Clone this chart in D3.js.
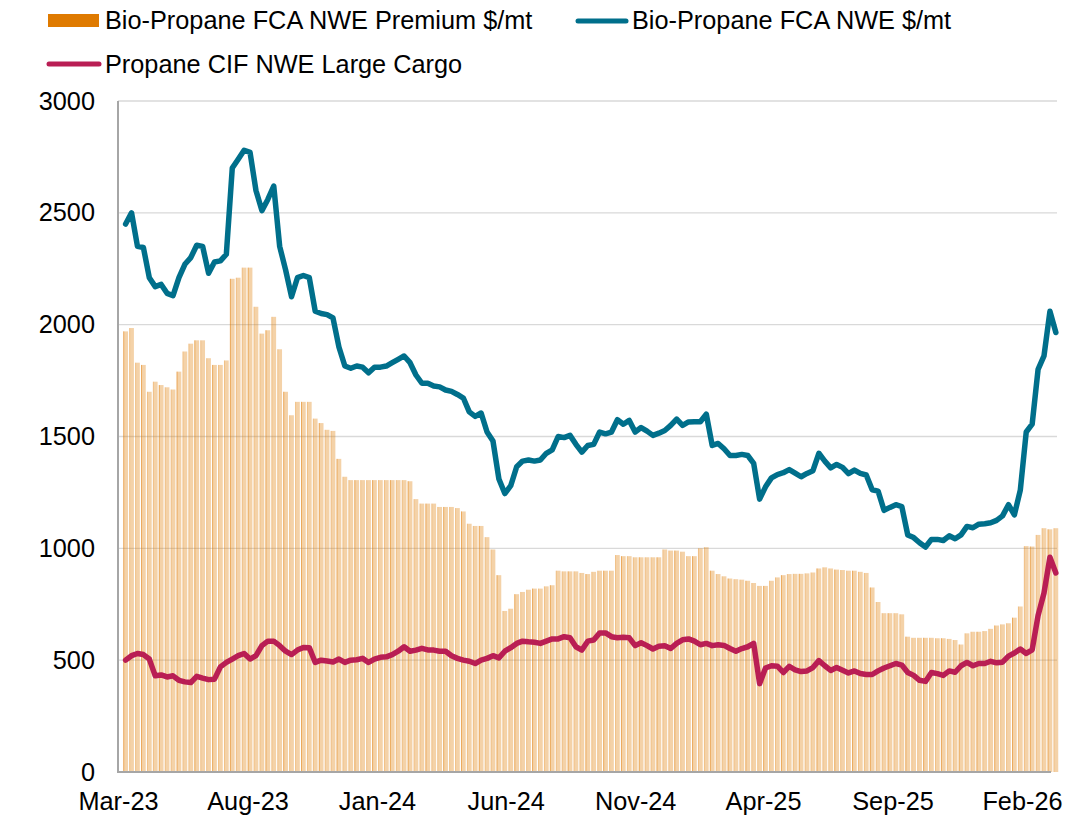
<!DOCTYPE html>
<html><head><meta charset="utf-8">
<script src="https://cdn.jsdelivr.net/npm/d3@7"></script>
<style>body{margin:0;background:#fff;} svg{display:block;font-family:"Liberation Sans",Arial,sans-serif;}</style>
</head><body><svg id="chart" width="1089" height="815"></svg>
<script>
// Weekly observations starting 2023-03-10
const firstWeek = "2023-03-10";
const bioPropane = [
2450,2500,2350,2345,2210,2170,2180,2140,2130,2210,2270,2300,2355,2350,2230,2280,2285,2315,2700,2740,
2780,2770,2600,2510,2560,2620,2350,2245,2125,2210,2220,2210,2060,2050,2045,2030,1900,1815,1805,1815,
1810,1785,1810,1810,1815,1830,1845,1860,1830,1775,1738,1738,1726,1722,1708,1702,1688,1672,1610,1590,
1605,1520,1480,1310,1245,1280,1365,1390,1395,1390,1395,1425,1440,1500,1495,1505,1465,1430,1460,1465,
1520,1512,1520,1575,1555,1572,1520,1540,1524,1505,1515,1527,1550,1578,1550,1565,1566,1566,1600,1460,
1469,1445,1415,1415,1420,1415,1380,1220,1275,1315,1330,1338,1352,1336,1320,1335,1347,1425,1390,1360,
1375,1362,1334,1350,1335,1328,1262,1256,1170,1183,1195,1187,1060,1048,1025,1006,1040,1040,1035,1056,
1043,1060,1098,1092,1108,1110,1114,1125,1145,1195,1150,1260,1520,1555,1800,1860,2060,1965];
const propane = [
500,520,530,525,505,430,434,425,430,410,403,400,428,420,413,415,470,490,505,520,
530,505,520,565,585,585,565,540,525,545,557,556,490,500,496,492,505,490,500,502,
508,490,505,513,515,525,540,560,540,545,553,546,545,540,540,520,508,500,495,485,
500,508,520,510,540,556,575,585,582,580,575,585,595,595,605,600,560,545,585,590,
622,622,605,600,602,600,565,578,565,550,562,564,552,575,591,595,585,569,575,565,
569,566,552,540,552,560,575,395,465,475,473,445,472,457,449,452,467,498,475,454,
467,455,443,452,440,436,436,452,465,475,485,478,445,432,410,405,445,440,432,452,
446,475,490,475,485,485,495,488,491,518,532,550,530,546,700,800,960,890];
const premium = [
1970,1985,1830,1820,1700,1745,1730,1720,1710,1790,1880,1915,1930,1930,1850,1820,1820,1840,2205,2210,
2255,2255,2080,1960,1975,2035,1890,1700,1595,1655,1655,1655,1580,1560,1530,1525,1400,1320,1305,1305,
1305,1305,1305,1305,1305,1305,1305,1305,1300,1220,1200,1200,1200,1185,1185,1185,1180,1165,1110,1100,
1100,1050,995,880,720,730,795,805,815,820,820,830,835,900,897,897,897,890,885,895,
900,900,900,970,965,965,960,960,960,960,960,995,990,990,985,965,965,1000,1005,900,
885,875,865,862,860,855,845,832,832,855,870,880,885,886,886,888,892,910,915,910,
905,903,900,900,895,890,825,760,710,710,710,705,605,600,600,600,600,598,598,595,
590,570,620,627,627,630,640,655,660,665,690,740,1010,1008,1060,1090,1085,1090];
const tickDates = ["2023-03-01","2023-08-01","2024-01-01","2024-06-01","2024-11-01","2025-04-01","2025-09-01","2026-02-01"];
const tickLabels = ["Mar-23","Aug-23","Jan-24","Jun-24","Nov-24","Apr-25","Sep-25","Feb-26"];
const yTicks = [0,500,1000,1500,2000,2500,3000];
const seriesNames = ["Bio-Propane FCA NWE Premium $/mt","Bio-Propane FCA NWE $/mt","Propane CIF NWE Large Cargo"];

const colTeal = "#006F8B", colCrimson = "#B91E54", colOrange = "#DF7A00";
const FS = 25.3;
const parse = d3.timeParse("%Y-%m-%d");
const start = parse(firstWeek);
const dates = premium.map((_, i) => d3.timeDay.offset(start, 7 * i));

const svg = d3.select("#chart");
const x = d3.scaleTime().domain([parse("2023-03-01"), parse("2026-02-01")]).range([118, 1022]);
const y = d3.scaleLinear().domain([0, 3000]).range([772, 101]);
const plotRight = 1057;

// gridlines
svg.append("g").selectAll("line").data(yTicks.filter(d => d > 0)).join("line")
  .attr("x1", 118).attr("x2", plotRight).attr("y1", d => y(d)).attr("y2", d => y(d))
  .attr("stroke", "#d9d9d9").attr("stroke-width", 1.3);

// bars
const step = x(dates[1]) - x(dates[0]);
const bw = step * 0.8;
const bars = svg.append("g");
bars.selectAll("rect.b").data(premium).join("rect").attr("class", "b")
  .attr("x", (d, i) => x(dates[i]) - bw / 2)
  .attr("width", bw)
  .attr("y", d => y(d))
  .attr("height", d => y(0) - y(d))
  .attr("fill", "rgb(224,123,0)").attr("fill-opacity", 0.34);
bars.selectAll("rect.e").data(premium).join("rect").attr("class", "e")
  .attr("x", (d, i) => x(dates[i]) - bw / 2)
  .attr("width", 1)
  .attr("y", d => y(d))
  .attr("height", d => y(0) - y(d))
  .attr("fill", "rgb(224,123,0)").attr("fill-opacity", (d, i) => i % 3 === 0 ? 0.45 : 0.2);

// axes lines
svg.append("line").attr("x1", 118).attr("x2", 118).attr("y1", 101).attr("y2", 773)
  .attr("stroke", "#a6a6a6").attr("stroke-width", 2);
svg.append("line").attr("x1", 117).attr("x2", 1051).attr("y1", 772).attr("y2", 772)
  .attr("stroke", "#a6a6a6").attr("stroke-width", 2);

// lines
const lineGen = vals => d3.line().x((d, i) => x(dates[i])).y(d => y(d))(vals);
svg.append("path").attr("d", lineGen(propane)).attr("fill", "none")
  .attr("stroke", colCrimson).attr("stroke-width", 5.5).attr("stroke-linejoin", "round").attr("stroke-linecap", "round");
svg.append("path").attr("d", lineGen(bioPropane)).attr("fill", "none")
  .attr("stroke", colTeal).attr("stroke-width", 5.5).attr("stroke-linejoin", "round").attr("stroke-linecap", "round");

// y axis labels
const yAxis = svg.append("g").attr("transform", "translate(118,0)")
  .call(d3.axisLeft(y).tickValues(yTicks).tickSize(0).tickPadding(23).tickFormat(d3.format("d")));
yAxis.select(".domain").remove();
yAxis.selectAll("text").attr("font-size", FS).attr("fill", "#000").attr("font-family", "Liberation Sans, Arial, sans-serif");

// x axis labels
const xAxis = svg.append("g").attr("transform", "translate(0,772)")
  .call(d3.axisBottom(x).tickValues(tickDates.map(parse)).tickSize(0).tickPadding(20).tickFormat((d, i) => tickLabels[i]));
xAxis.select(".domain").remove();
xAxis.selectAll("text").attr("font-size", FS).attr("fill", "#000").attr("font-family", "Liberation Sans, Arial, sans-serif");

// legend
const lg = svg.append("g").attr("font-size", FS).attr("fill", "#000");
lg.append("rect").attr("x", 48).attr("y", 14).attr("width", 51).attr("height", 13).attr("fill", colOrange);
lg.append("text").attr("x", 105).attr("y", 29).text(seriesNames[0]);
lg.append("line").attr("x1", 578).attr("x2", 626).attr("y1", 21).attr("y2", 21)
  .attr("stroke", colTeal).attr("stroke-width", 5).attr("stroke-linecap", "round");
lg.append("text").attr("x", 632).attr("y", 29).text(seriesNames[1]);
lg.append("line").attr("x1", 49).attr("x2", 99).attr("y1", 64).attr("y2", 64)
  .attr("stroke", colCrimson).attr("stroke-width", 5).attr("stroke-linecap", "round");
lg.append("text").attr("x", 105).attr("y", 73).text(seriesNames[2]);
</script></body></html>
